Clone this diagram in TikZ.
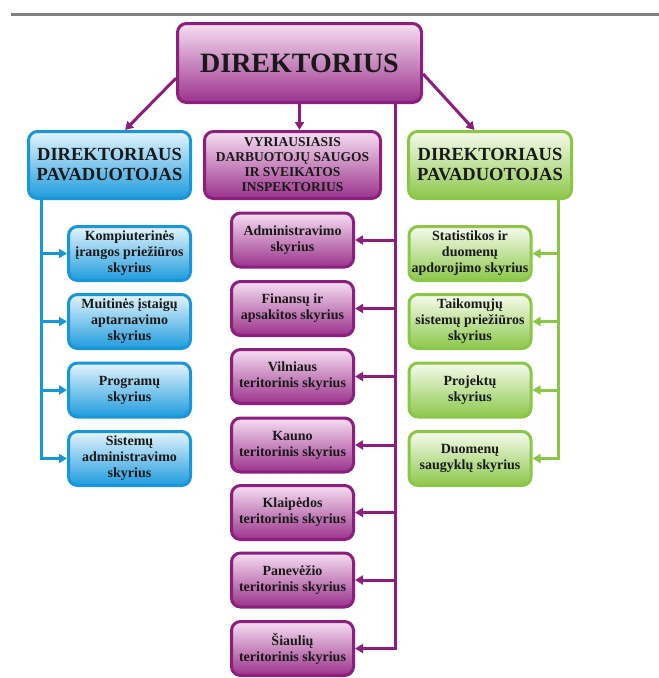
\documentclass[tikz,border=0pt]{standalone}
\usepackage{fontspec}
\setmainfont{Liberation Serif}
\usepackage{xcolor}
\usepackage{tikz}
\usetikzlibrary{positioning,arrows.meta,calc}
\definecolor{purpleline}{RGB}{140,30,125}
\definecolor{purpletop}{RGB}{246,222,242}
\definecolor{purplebot}{RGB}{155,50,140}
\definecolor{blueline}{RGB}{25,150,215}
\definecolor{bluetop}{RGB}{228,244,252}
\definecolor{bluebot}{RGB}{30,155,222}
\definecolor{greenline}{RGB}{140,198,70}
\definecolor{greentop}{RGB}{246,250,236}
\definecolor{greenbot}{RGB}{140,200,75}
\definecolor{textdark}{RGB}{25,25,25}
\definecolor{ruleline}{RGB}{128,128,128}

\begin{document}
\begin{tikzpicture}[x=1pt, y=-1pt,
    box/.style={rectangle, rounded corners=9pt, line width=3pt, align=center, text=textdark, font=\bfseries\fontsize{14}{16}\selectfont, minimum width=122pt, minimum height=54pt, inner sep=1pt},
    pbox/.style={box, draw=purpleline, top color=purpletop, bottom color=purplebot},
    bbox/.style={box, draw=blueline, top color=bluetop, bottom color=bluebot},
    gbox/.style={box, draw=greenline, top color=greentop, bottom color=greenbot},
    link/.style={line width=3pt, -{Triangle[length=8pt,width=9pt]}},
]
    \useasboundingbox (0,0) rectangle (659,678);
    \draw[ruleline, line width=3pt] (11,14.5) -- (659,14.5);

    \node[pbox, minimum width=244pt, minimum height=79pt, font=\bfseries\fontsize{28}{32}\selectfont] (dir) at (299.5, 63) {DIREKTORIUS};
    \node[bbox, minimum width=162pt, minimum height=67pt, font=\bfseries\fontsize{18.5}{20}\selectfont] (depL) at (109.5, 165) {DIREKTORIAUS\\PAVADUOTOJAS};
    \node[pbox, minimum width=176pt, minimum height=67pt, font=\bfseries\fontsize{13.5}{15}\selectfont] (insp) at (292.5, 165) {VYRIAUSIASIS\\DARBUOTOJŲ SAUGOS\\IR SVEIKATOS\\INSPEKTORIUS};
    \node[gbox, minimum width=163pt, minimum height=67pt, font=\bfseries\fontsize{18.5}{20}\selectfont] (depR) at (490, 165) {DIREKTORIAUS\\PAVADUOTOJAS};

    \node[bbox] (b1) at (129.5, 253.5) {Kompiuterinės\\įrangos priežiūros\\skyrius};
    \node[bbox] (b2) at (129.5, 321.5) {Muitinės įstaigų\\aptarnavimo\\skyrius};
    \node[bbox] (b3) at (129.5, 390) {Programų\\skyrius};
    \node[bbox] (b4) at (129.5, 458.5) {Sistemų\\administravimo\\skyrius};

    \node[pbox] (p1) at (292.5, 240) {Administravimo\\skyrius};
    \node[pbox] (p2) at (292.5, 308.5) {Finansų ir\\apsakitos skyrius};
    \node[pbox] (p3) at (292.5, 376.5) {Vilniaus\\teritorinis skyrius};
    \node[pbox] (p4) at (292.5, 445) {Kauno\\teritorinis skyrius};
    \node[pbox] (p5) at (292.5, 512.5) {Klaipėdos\\teritorinis skyrius};
    \node[pbox] (p6) at (292.5, 580) {Panevėžio\\teritorinis skyrius};
    \node[pbox] (p7) at (292.5, 648.5) {Šiaulių\\teritorinis skyrius};

    \node[gbox] (g1) at (470, 253.5) {Statistikos ir\\duomenų\\apdorojimo skyrius};
    \node[gbox] (g2) at (470, 321.5) {Taikomųjų\\sistemų priežiūros\\skyrius};
    \node[gbox] (g3) at (470, 390) {Projektų\\skyrius};
    \node[gbox] (g4) at (470, 458.5) {Duomenų\\saugyklų skyrius};

    \draw[link, purpleline] (dir.187) -- (depL.66);
    \draw[link, purpleline] (dir.south) -- (dir.south |- insp.north);
    \draw[link, purpleline] (dir.-5.5) -- (depR.114);

    \coordinate (ptop) at ($(dir.south east)+(-28,0)$);
    \coordinate (btop) at ($(depL.south west)+(14,0)$);
    \coordinate (gtop) at ($(depR.south east)+(-15,0)$);

    \draw[link, blueline] (btop) |- (b4.west);
    \draw[link, blueline] (b1.west -| btop) -- (b1.west);
    \draw[link, blueline] (b2.west -| btop) -- (b2.west);
    \draw[link, blueline] (b3.west -| btop) -- (b3.west);

    \draw[link, purpleline] (ptop) |- (p7.east);
    \draw[link, purpleline] (p1.east -| ptop) -- (p1.east);
    \draw[link, purpleline] (p2.east -| ptop) -- (p2.east);
    \draw[link, purpleline] (p3.east -| ptop) -- (p3.east);
    \draw[link, purpleline] (p4.east -| ptop) -- (p4.east);
    \draw[link, purpleline] (p5.east -| ptop) -- (p5.east);
    \draw[link, purpleline] (p6.east -| ptop) -- (p6.east);

    \draw[link, greenline] (gtop) |- (g4.east);
    \draw[link, greenline] (g1.east -| gtop) -- (g1.east);
    \draw[link, greenline] (g2.east -| gtop) -- (g2.east);
    \draw[link, greenline] (g3.east -| gtop) -- (g3.east);
\end{tikzpicture}
\end{document}
